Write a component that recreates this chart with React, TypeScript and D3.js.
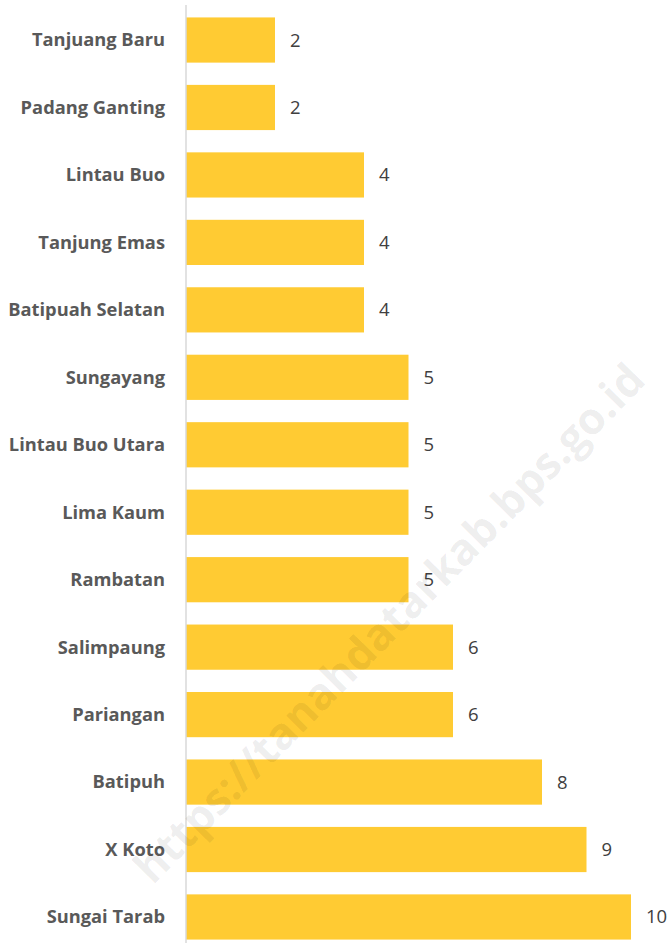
import { useRef, useEffect } from 'react';
import * as d3 from 'd3';

const kecamatan = [
  'Tanjuang Baru', 'Padang Ganting', 'Lintau Buo', 'Tanjung Emas', 'Batipuah Selatan',
  'Sungayang', 'Lintau Buo Utara', 'Lima Kaum', 'Rambatan', 'Salimpaung',
  'Pariangan', 'Batipuh', 'X Koto', 'Sungai Tarab',
];
const jumlah = [2, 2, 4, 4, 4, 5, 5, 5, 5, 6, 6, 8, 9, 10];
const watermark = 'https://tanahdatarkab.bps.go.id';

const W = 670;
const H = 946;

const App = () => {
  const ref = useRef<SVGSVGElement>(null);

  useEffect(() => {
    const svg = d3.select(ref.current);
    svg.selectAll('*').remove();

    const axisX = 186;
    const x = d3.scaleLinear().domain([0, 10]).range([axisX, 631]);
    const y = d3.scaleBand()
      .domain(kecamatan)
      .range([6.3, 950.7])
      .paddingInner(0.33)
      .paddingOuter(0.165);

    const data = kecamatan.map((k, i) => ({ k, v: jumlah[i] }));

    svg.selectAll('.bar')
      .data(data)
      .enter().append('rect')
      .attr('class', 'bar')
      .attr('x', x(0))
      .attr('y', d => y(d.k)!)
      .attr('width', d => x(d.v) - x(0))
      .attr('height', y.bandwidth())
      .attr('fill', '#FFCB33');

    svg.append('line')
      .attr('x1', axisX).attr('x2', axisX)
      .attr('y1', 5).attr('y2', 943)
      .attr('stroke', '#d9d9d9')
      .attr('stroke-width', 1.5);

    svg.selectAll('.cat')
      .data(data)
      .enter().append('text')
      .attr('class', 'cat')
      .attr('x', 165)
      .attr('y', d => y(d.k)! + y.bandwidth() / 2)
      .attr('dy', '0.35em')
      .attr('text-anchor', 'end')
      .attr('font-family', '"Open Sans", sans-serif')
      .attr('font-weight', 700)
      .attr('font-size', 18.3)
      .attr('fill', '#595959')
      .text(d => d.k);

    svg.selectAll('.val')
      .data(data)
      .enter().append('text')
      .attr('class', 'val')
      .attr('x', d => x(d.v) + 15)
      .attr('y', d => y(d.k)! + y.bandwidth() / 2)
      .attr('dy', '0.35em')
      .attr('font-family', '"Open Sans", sans-serif')
      .attr('font-size', 18.5)
      .attr('fill', '#404040')
      .text(d => d.v);

    // watermark over everything, faint
    svg.append('text')
      .attr('transform', 'translate(388,622) rotate(-45.5)')
      .attr('text-anchor', 'middle')
      .attr('dominant-baseline', 'central')
      .attr('font-family', '"Open Sans", sans-serif')
      .attr('font-weight', 700)
      .attr('font-size', 44)
      .attr('fill', '#000')
      .attr('fill-opacity', 0.075)
      .text(watermark);
  }, []);

  return (
    <svg
      ref={ref}
      width={W}
      height={H}
      style={{ position: 'absolute', left: 0, top: 0, background: '#fff' }}
    />
  );
};

export default App;
